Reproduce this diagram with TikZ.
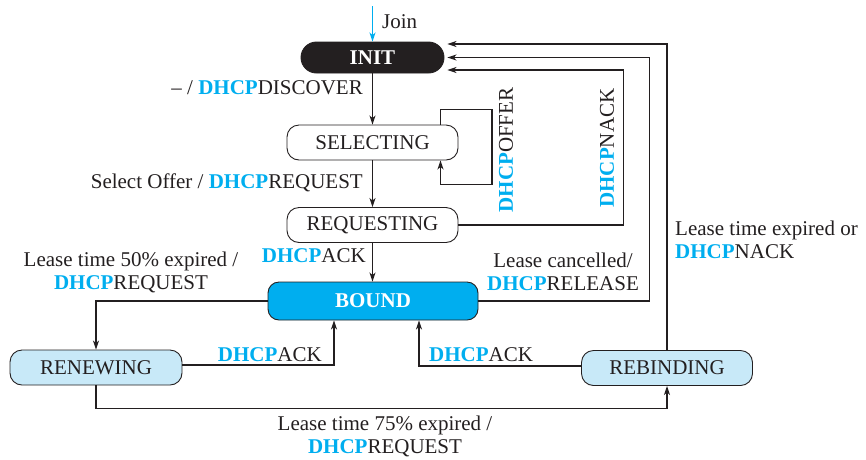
\documentclass[tikz,border=0pt]{standalone}
\usepackage{fontspec}
\setmainfont{Liberation Serif}
\usetikzlibrary{arrows.meta,positioning}
\definecolor{dcyan}{RGB}{0,174,239}
\definecolor{lcyan}{RGB}{200,233,248}
\definecolor{ink}{RGB}{35,31,32}
\newcommand{\dhcpw}{\textbf{\textcolor{dcyan}{DHCP}}}
\begin{document}
\begin{tikzpicture}[x=1pt,y=-1pt,
  font=\fontsize{21}{23}\selectfont,
  state/.style={draw=ink,line width=0.9pt,rounded corners=12pt,minimum height=35pt,inner sep=0pt},
  conn/.style={draw=ink,line width=1.2pt,-{Stealth[length=9pt,width=6pt,inset=2.5pt]}},
  lbl/.style={inner sep=0pt,text=ink}]
\useasboundingbox (0,0) rectangle (866,459);
% states
\node[state,fill=ink,text=white,minimum width=143pt,minimum height=31pt,rounded corners=15.5pt,font=\fontsize{21}{23}\selectfont\bfseries] (init) at (372.5,57.5) {INIT};
\node[state,fill=white,minimum width=171pt,text=ink] (sel) at (372.5,142.5) {SELECTING};
\node[state,fill=white,minimum width=171pt,text=ink] (req) at (372.5,225) {REQUESTING};
\node[state,fill=dcyan,text=white,minimum width=210pt,minimum height=38pt,rounded corners=11pt,font=\fontsize{21}{23}\selectfont\bfseries] (bound) at (373,301) {BOUND};
\node[state,fill=lcyan,minimum width=172pt,text=ink] (renew) at (96,367.5) {RENEWING};
\node[state,fill=lcyan,minimum width=171pt,text=ink] (rebind) at (667,368) {REBINDING};
% join
\coordinate (joinstart) at (372.5,6);
\draw[draw=dcyan,line width=1.6pt,-{Stealth[length=9pt,width=6pt,inset=2.5pt]}] (joinstart) -- (init.north);
\node[lbl,anchor=west] (joinl) at (382,22) {Join};
% main chain
\draw[conn] (init.south) -- (sel.north);
\draw[conn] (sel.south) -- (req.north);
\draw[conn] (req.south) -- (req.south |- bound.north);
\node[lbl,anchor=east] (l1) at (363,88) {– / \dhcpw DISCOVER};
\node[lbl,anchor=east] (l2) at (363,183) {Select Offer / \dhcpw REQUEST};
\node[lbl,anchor=east] (l3) at (366,256) {\dhcpw ACK};
% self loop
\draw[conn] ([xshift=68pt]sel.north) -- ++(0,-15) -- ++(51.5,0) -- ++(0,75) -- ++(-51.5,0) -- ([xshift=68pt]sel.south);
\node[lbl,rotate=90] (loff) at (506,150) {\dhcpw OFFER};
% returns to INIT
\draw[conn] (req.east) -- ++(165,0) |- ([shift={(3,12.5)}]init.east);
\node[lbl,rotate=90] (lnack) at (607,148) {\dhcpw NACK};
\draw[conn] (bound.east) -- ++(171,0) |- ([xshift=3pt]init.east);
\node[lbl,align=center] (lcanc) at (563,272) {Lease cancelled/\\\dhcpw RELEASE};
\draw[conn] (rebind.north) |- ([shift={(3,-13.5)}]init.east);
\node[lbl,anchor=west,align=left] (lexp) at (675,240) {Lease time expired or\\\dhcpw NACK};
% renewing / rebinding
\draw[conn] (bound.west) -| (renew.north);
\node[lbl,align=center] (l50) at (131,272) {Lease time 50\% expired /\\\dhcpw REQUEST};
\draw[conn] ([yshift=2.5pt]renew.east) -| ([xshift=-39pt]bound.south);
\node[lbl,anchor=east] (lack1) at (322,355) {\dhcpw ACK};
\draw[conn] ([yshift=2pt]rebind.west) -| ([xshift=46pt]bound.south);
\node[lbl,anchor=west] (lack2) at (429,355) {\dhcpw ACK};
\draw[conn] (renew.south) -- ++(0,23) -| (rebind.south);
\node[lbl,align=center] (l75) at (385,436) {Lease time 75\% expired /\\\dhcpw REQUEST};
\end{tikzpicture}
\end{document}
